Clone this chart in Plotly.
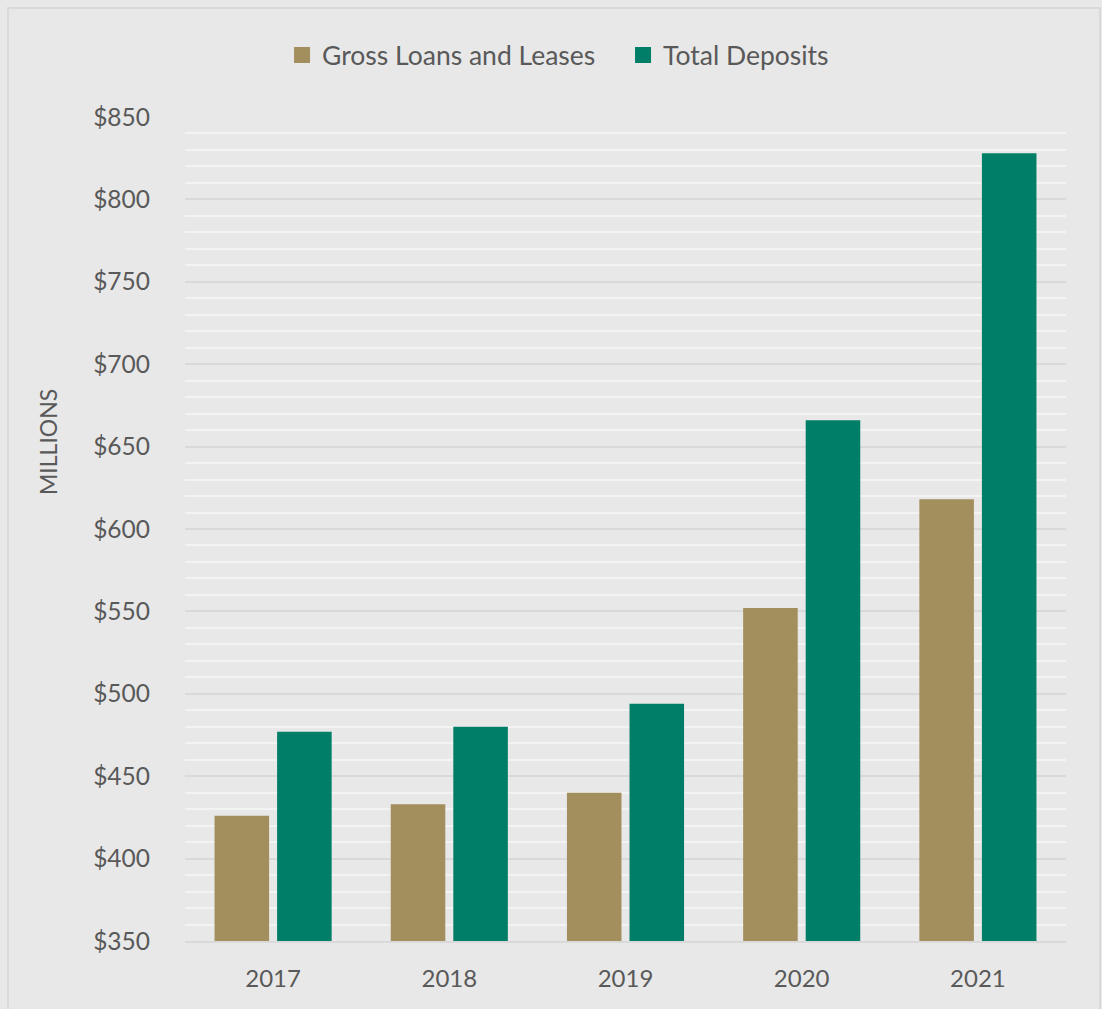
import plotly.graph_objects as go

years = ["2017", "2018", "2019", "2020", "2021"]
gross_loans = [426, 433, 440, 552, 618]
total_deposits = [477, 480, 494, 666, 828]
y_ticks = [350, 400, 450, 500, 550, 600, 650, 700, 750, 800, 850]
y_tick_labels = ["$" + str(v) for v in y_ticks]
series_names = ["Gross Loans and Leases", "Total Deposits"]
series_colors = ["#a38e5e", "#007e67"]

FONT = "Lato"
TXT = "#595959"

fig = go.Figure()
for name, vals, col in zip(series_names, [gross_loans, total_deposits], series_colors):
    fig.add_trace(go.Bar(x=years, y=vals, name=name, showlegend=False,
                         marker=dict(color=col, line=dict(width=0))))
# legend entries with larger square symbols
for name, col in zip(series_names, series_colors):
    fig.add_trace(go.Scatter(x=[None], y=[None], mode="markers", name=name,
                             marker=dict(symbol="square", size=16, color=col)))

fig.update_layout(
    width=1102, height=1009,
    margin=dict(l=185, r=36, t=117, b=68),
    paper_bgcolor="#e8e8e8", plot_bgcolor="#e8e8e8",
    barmode="group", bargap=0.29, bargroupgap=0.128,
    font=dict(family=FONT, size=24, color=TXT),
    legend=dict(orientation="h", x=0.4972, xanchor="center", y=1.075, yanchor="middle",
                font=dict(size=26.5, color=TXT), bgcolor="rgba(0,0,0,0)",
                itemwidth=30, traceorder="normal", entrywidth=296, entrywidthmode="pixels"),
    showlegend=True,
)
fig.update_yaxes(
    range=[350, 850], tickvals=y_ticks, ticktext=y_tick_labels,
    showgrid=True, gridcolor="#d9d9d9", gridwidth=2,
    minor=dict(dtick=10, tick0=350, showgrid=True, gridcolor="#f3f3f3", gridwidth=2),
    zeroline=False, showline=False, ticks="", ticklabelstandoff=34,
    tickfont=dict(size=24.5, color=TXT),
)
fig.update_xaxes(
    showgrid=False, showline=True, linecolor="#d9d9d9", linewidth=2,
    ticks="", ticklabelstandoff=15, tickfont=dict(size=24, color=TXT),
)
fig.add_annotation(text="MILLIONS", textangle=-90, xref="paper", yref="paper",
                   x=(48 - 185) / 881, y=(941 - 442) / 824, xanchor="center", yanchor="middle",
                   showarrow=False, font=dict(size=23, color=TXT))
fig.add_shape(type="rect", xref="paper", yref="paper",
              x0=(8 - 185) / 881, x1=(1100 - 185) / 881,
              y0=(941 - 1020) / 824, y1=(941 - 8) / 824,
              line=dict(color="#d9d9d9", width=2), fillcolor="rgba(0,0,0,0)", layer="below")

fig.write_html("out.html")
